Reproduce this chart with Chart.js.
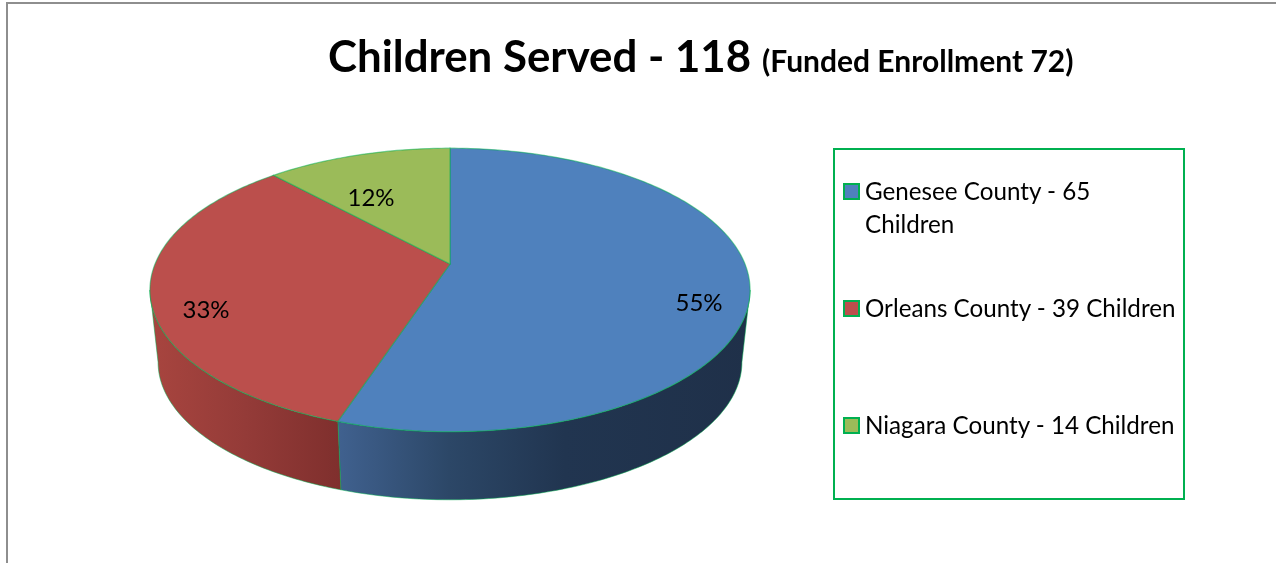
<!DOCTYPE html>
<html>
<head>
<meta charset="utf-8">
<title>Children Served</title>
<script src="https://cdn.jsdelivr.net/npm/chart.js@4"></script>
<style>
  html, body { margin: 0; padding: 0; background: #fff; overflow: hidden; }
  #page { position: relative; width: 1276px; height: 563px; overflow: hidden; font-family: Lato, sans-serif; color: #000; }
  #frame { position: absolute; left: 6px; top: 2px; width: 1290px; height: 600px; border: 2px solid #8e8e8e; }
  #pie { position: absolute; left: 0; top: 0; }
  .title { position: absolute; font-weight: 700; white-space: nowrap; line-height: 1; }
  #title1 { left: 328px; top: 34px; font-size: 43.8px; }
  #title2 { left: 762px; top: 45px; font-size: 30px; }
  #legendBox { position: absolute; left: 833px; top: 148px; width: 348px; height: 348px; border: 2px solid #00b050; }
  .swatch { position: absolute; left: 843px; width: 13px; height: 13px; border: 2px solid #00b050; }
  .entry { position: absolute; left: 865px; width: 312px; font-size: 24.2px; line-height: 33px; }
</style>
</head>
<body>
<div id="page">
  <div id="frame"></div>
  <canvas id="pie" width="1276" height="563"></canvas>
  <div class="title" id="title1">Children Served - 118</div>
  <div class="title" id="title2">(Funded Enrollment 72)</div>
  <div id="legendBox"></div>
</div>
<script>
const counties = ["Genesee County", "Orleans County", "Niagara County"];
const children = [65, 39, 14];
const faceColors = ["#4f81bd", "#bb4f4c", "#9bbb59"];

// percent labels do not sit on a radius in the original, so they get their own spots
const labelSpots = [[699, 303], [206, 310], [371, 198]];
const legendSwatchTops = [183, 300, 417];
const legendTextTops = [174, 291, 408];

// wall shading left to right, one list per slice
const wallShades = [
    [[0, "#40618f"], [0.27, "#2c4767"], [0.55, "#213550"], [1, "#1f3049"]],
    [[0, "#a8453f"], [0.5, "#943b38"], [1, "#7f2f2d"]],
    [[0, "#7d9147"], [1, "#7d9147"]]
];

// camera for the tilted disc, top face and the (slightly smaller) bottom face
const tilt = -0.183;
const topFace = { cx: 450, cy: 264, sx: 295, sy: 137 };
const bottomFace = { cx: 450, cy: 337, sx: 287, sy: 133 };
const edgeColor = "rgba(0,176,80,0.5)";

function project(face, angle) {
    const w = 1 + tilt * Math.sin(angle);
    return [face.cx + face.sx * Math.cos(angle) / w, face.cy + face.sy * Math.sin(angle) / w];
}

function traceRim(ctx, face, from, to) {
    const steps = Math.max(2, Math.ceil(Math.abs(to - from) * 60));
    for (let i = 0; i <= steps; i++) {
        const p = project(face, from + (to - from) * i / steps);
        ctx.lineTo(p[0], p[1]);
    }
}

const disc3d = {
    id: "disc3d",
    // the arcs keep their angles from the pie controller, only the painting is replaced
    beforeDatasetDraw(chart, args) {
        const ctx = chart.ctx;
        const arcs = args.meta.data;
        // walls run between the two widest points of the disc
        const wallFrom = Math.asin(-tilt);
        const wallTo = Math.PI - wallFrom;

        arcs.forEach(function (arc, i) {
            const from = Math.max(arc.startAngle, wallFrom);
            const to = Math.min(arc.endAngle, wallTo);
            if (to <= from) return;
            const xs = [];
            for (let k = 0; k <= 40; k++) {
                const a = from + (to - from) * k / 40;
                xs.push(project(topFace, a)[0], project(bottomFace, a)[0]);
            }
            const grad = ctx.createLinearGradient(Math.min(...xs), 0, Math.max(...xs), 0);
            wallShades[i].forEach(function (s) { grad.addColorStop(s[0], s[1]); });

            ctx.beginPath();
            traceRim(ctx, topFace, from, to);
            traceRim(ctx, bottomFace, to, from);
            ctx.closePath();
            ctx.fillStyle = grad;
            ctx.fill();
            ctx.strokeStyle = edgeColor;
            ctx.lineWidth = 1;
            ctx.stroke();
        });

        arcs.forEach(function (arc, i) {
            ctx.beginPath();
            ctx.moveTo(topFace.cx, topFace.cy);
            traceRim(ctx, topFace, arc.startAngle, arc.endAngle);
            ctx.closePath();
            ctx.fillStyle = faceColors[i];
            ctx.fill();
            ctx.strokeStyle = edgeColor;
            ctx.lineWidth = 1.2;
            ctx.stroke();
        });

        const total = children.reduce(function (a, b) { return a + b; }, 0);
        ctx.fillStyle = "#000";
        ctx.font = "24px Lato, sans-serif";
        ctx.textAlign = "center";
        ctx.textBaseline = "middle";
        arcs.forEach(function (arc, i) {
            ctx.fillText(Math.round(children[i] / total * 100) + "%", labelSpots[i][0], labelSpots[i][1]);
        });
        return false;
    }
};

const myChart = new Chart(document.getElementById("pie").getContext("2d"), {
    type: "pie",
    data: {
        labels: counties,
        datasets: [{ data: children, backgroundColor: faceColors }]
    },
    options: {
        responsive: false,
        animation: false,
        plugins: { legend: { display: false }, tooltip: { enabled: false } }
    },
    plugins: [disc3d]
});

// legend lives in its own box, built from the same arrays
const page = document.getElementById("page");
counties.forEach(function (county, i) {
    const swatch = document.createElement("div");
    swatch.className = "swatch";
    swatch.style.top = legendSwatchTops[i] + "px";
    swatch.style.background = faceColors[i];
    page.appendChild(swatch);

    const entry = document.createElement("div");
    entry.className = "entry";
    entry.style.top = legendTextTops[i] + "px";
    entry.textContent = county + " - " + children[i] + " Children";
    page.appendChild(entry);
});
</script>
</body>
</html>
